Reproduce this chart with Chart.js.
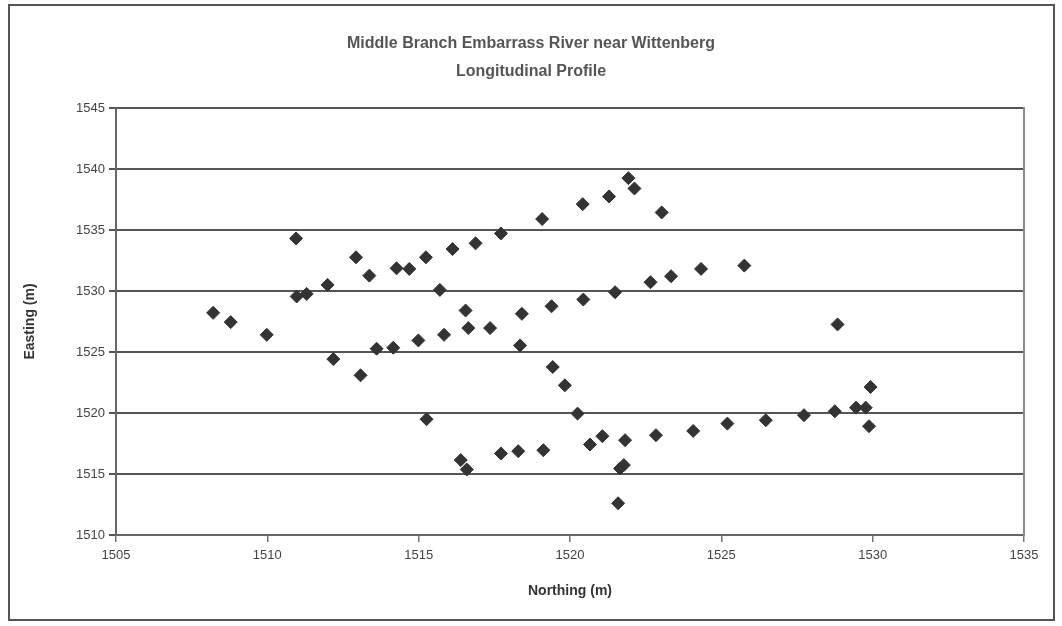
<!DOCTYPE html>
<html>
<head>
<meta charset="utf-8">
<script src="https://cdn.jsdelivr.net/npm/chart.js@4/dist/chart.umd.min.js"></script>
<style>
  html, body { margin: 0; padding: 0; background: #fff; }
  #wrap { width: 1062px; height: 626px; }
</style>
</head>
<body>
<div id="wrap"><canvas id="myChart" width="1062" height="626"></canvas></div>
<script>
// Точки продольного профиля: Northing (X) и Easting (Y), метры
const northing = [
  1508.21, 1508.79, 1509.98, 1510.95, 1510.97, 1511.30, 1511.99, 1512.18, 1512.93, 1513.08,
  1513.37, 1513.61, 1514.16, 1514.27, 1514.69, 1514.99, 1515.24, 1515.26, 1515.70, 1515.84,
  1516.12, 1516.39, 1516.55, 1516.59, 1516.64, 1516.88, 1517.36, 1517.72, 1517.72, 1518.29,
  1518.35, 1518.41, 1519.08, 1519.12, 1519.39, 1519.43, 1519.83, 1520.25, 1520.42, 1520.44,
  1520.66, 1521.07, 1521.29, 1521.49, 1521.59, 1521.65, 1521.78, 1521.82, 1521.93, 1522.13,
  1522.66, 1522.84, 1523.03, 1523.34, 1524.07, 1524.33, 1525.76, 1525.20, 1526.47, 1527.73,
  1528.75, 1528.84, 1529.45, 1529.77, 1529.93, 1529.88
];
const easting = [
  1528.21, 1527.45, 1526.41, 1534.31, 1529.55, 1529.76, 1530.50, 1524.42, 1532.76, 1523.09,
  1531.26, 1525.27, 1525.35, 1531.86, 1531.81, 1525.95, 1532.76, 1519.49, 1530.09, 1526.41,
  1533.44, 1516.14, 1528.40, 1515.37, 1526.96, 1533.91, 1526.96, 1534.72, 1516.68, 1516.87,
  1525.54, 1528.13, 1535.90, 1516.95, 1528.75, 1523.77, 1522.27, 1519.95, 1537.12, 1529.30,
  1517.42, 1518.10, 1537.75, 1529.90, 1512.60, 1515.45, 1515.73, 1517.77, 1539.25, 1538.40,
  1530.72, 1518.18, 1536.44, 1531.21, 1518.53, 1531.81, 1532.08, 1519.13, 1519.41, 1519.82,
  1520.14, 1527.26, 1520.44, 1520.44, 1522.13, 1518.92
];

const xTicks = [1505, 1535, 5]; // min, max, шаг
const yTicks = [1510, 1545, 5];

const titleLines = ['Middle Branch Embarrass River near Wittenberg', 'Longitudinal Profile'];
const xTitle = 'Northing (m)';
const yTitle = 'Easting (m)';

const points = northing.map((x, i) => ({ x: x, y: easting[i] }));

const FONT = "'Liberation Sans Narrow', 'Arial Narrow', 'Liberation Sans', Arial, sans-serif";

// Внешняя рамка вокруг всей диаграммы + разрядка букв как в оригинале
const frames = {
  id: 'frames',
  beforeDraw(chart) {
    const ctx = chart.ctx;
    ctx.save();
    ctx.fillStyle = '#fff';
    ctx.fillRect(0, 0, chart.width, chart.height);
    ctx.strokeStyle = '#555';
    ctx.lineWidth = 2;
    ctx.strokeRect(9, 5, 1045, 615);
    ctx.restore();
  }
};

const spacing = {
  id: 'spacing',
  beforeInit(chart) { chart.ctx.letterSpacing = '1px'; }
};

const config = {
  type: 'scatter',
  data: {
    datasets: [{
      label: 'Profile',
      data: points,
      pointStyle: 'rectRot',
      pointRadius: 6.5,
      backgroundColor: '#333333',
      borderColor: '#333333',
      borderWidth: 1
    }]
  },
  options: {
    responsive: false,
    animation: false,
    layout: { padding: 0 },
    plugins: {
      legend: { display: false },
      tooltip: { enabled: false },
      title: {
        display: true,
        text: titleLines,
        color: '#555',
        font: { family: FONT, size: 16, weight: 'bold', lineHeight: 1.75 },
        padding: { top: 30, bottom: 22 }
      }
    },
    scales: {
      x: {
        type: 'linear',
        min: xTicks[0],
        max: xTicks[1],
        afterFit(scale) { scale.height = 91; },
        ticks: {
          stepSize: xTicks[2],
          color: '#444',
          font: { family: FONT, size: 13 },
          padding: 6,
          callback: v => String(v)
        },
        grid: { drawOnChartArea: false, drawTicks: true, tickLength: 7, color: '#777', lineWidth: 1.5 },
        border: { display: true, color: '#666', width: 2 },
        title: {
          display: true,
          text: xTitle,
          color: '#333',
          font: { family: FONT, size: 14, weight: 'bold' },
          padding: { top: 0, bottom: 26 }
        }
      },
      y: {
        type: 'linear',
        min: yTicks[0],
        max: yTicks[1],
        afterFit(scale) { scale.width = 116; },
        ticks: {
          stepSize: yTicks[2],
          color: '#444',
          font: { family: FONT, size: 13 },
          padding: 4,
          callback: v => String(v)
        },
        grid: { drawTicks: true, tickLength: 7, color: '#555', lineWidth: 2 },
        border: { display: true, color: '#666', width: 2 },
        title: {
          display: true,
          text: yTitle,
          color: '#333',
          font: { family: FONT, size: 14, weight: 'bold' },
          padding: { top: 22, bottom: 0 }
        }
      },
      // правая рамка области построения
      yRight: {
        type: 'linear',
        position: 'right',
        min: yTicks[0],
        max: yTicks[1],
        afterFit(scale) { scale.width = 38; },
        ticks: { display: false },
        grid: { display: false },
        border: { display: true, color: '#8a8a8a', width: 2 }
      }
    }
  },
  plugins: [frames, spacing]
};

const myChart = new Chart(document.getElementById('myChart'), config);
</script>
</body>
</html>
